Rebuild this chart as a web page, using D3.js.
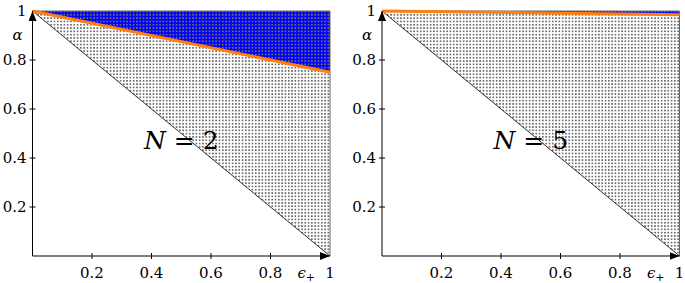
<!DOCTYPE html>
<html><head><meta charset="utf-8">
<script src="https://cdn.jsdelivr.net/npm/d3@7"></script>
<style>body{margin:0;background:#fff}svg{display:block}</style>
</head><body>
<script>
const panelN = [2, 5];
const alphaAtEpsOne = [0.75, 0.985];
const xTicks = [0.2, 0.4, 0.6, 0.8];
const yTicks = [0.2, 0.4, 0.6, 0.8, 1];

const FONT = "'DejaVu Serif', 'Liberation Serif', serif";
const W = 685, H = 283;
const svg = d3.select("body").append("svg").attr("width", W).attr("height", H)
  .attr("font-family", FONT);
const defs = svg.append("defs");
const pat = defs.append("pattern").attr("id", "dots").attr("patternUnits", "userSpaceOnUse")
  .attr("width", 3.3).attr("height", 3.3);
pat.append("rect").attr("x", 0.8).attr("y", 0.8).attr("width", 1.7).attr("height", 1.7).attr("fill", "#6e6e6e");
const mk = defs.append("marker").attr("id", "arr").attr("viewBox", "0 0 10 8").attr("refX", 10).attr("refY", 4)
  .attr("markerWidth", 10).attr("markerHeight", 8).attr("markerUnits", "userSpaceOnUse").attr("orient", "auto");
mk.append("path").attr("d", "M0,0 L10,4 L0,8 Z").attr("fill", "#000");

const panelLeft = [32.5, 382];
const panelWidth = 297.5;
const y = d3.scaleLinear().domain([0, 1]).range([256, 11]);

panelN.forEach((N, i) => {
  const x = d3.scaleLinear().domain([0, 1]).range([panelLeft[i], panelLeft[i] + panelWidth]);
  const g = svg.append("g");
  const line = d3.line().x(d => x(d[0])).y(d => y(d[1]));
  const a1 = alphaAtEpsOne[i];
  g.append("path").attr("d", line([[0, 1], [1, 1], [1, a1]]) + "Z").attr("fill", "#0000ff");
  g.append("path").attr("d", line([[0, 1], [1, 1], [1, 0]]) + "Z").attr("fill", "url(#dots)");
  g.append("path").attr("d", line([[0, 1], [1, 1], [1, 0]])).attr("fill", "none").attr("stroke", "#666").attr("stroke-width", 1);
  g.append("path").attr("d", line([[0, 1], [1, 0]])).attr("stroke", "#000").attr("stroke-width", 0.8).attr("fill", "none");
  g.append("path").attr("d", line([[0, 1], [1, a1]])).attr("stroke", "#ff7f0e").attr("stroke-width", 3).attr("fill", "none");
  g.append("path").attr("d", line([[0, 0], [0, 1]])).attr("stroke", "#000").attr("stroke-width", 1).attr("marker-end", "url(#arr)");
  g.append("path").attr("d", line([[0, 0], [1, 0]])).attr("stroke", "#000").attr("stroke-width", 1).attr("marker-end", "url(#arr)");
  xTicks.forEach(t => {
    g.append("line").attr("x1", x(t)).attr("x2", x(t)).attr("y1", y(0) - 3).attr("y2", y(0) + 3).attr("stroke", "#000");
    g.append("text").attr("x", x(t)).attr("y", 278).attr("text-anchor", "middle").attr("font-size", 15).text(t.toFixed(1));
  });
  g.append("text").attr("x", x(1)).attr("y", 278).attr("text-anchor", "middle").attr("font-size", 15).text("1");
  const eps = g.append("text").attr("x", x(0.92)).attr("y", 278).attr("text-anchor", "middle").attr("font-size", 15).attr("font-style", "italic");
  eps.append("tspan").text("ϵ");
  eps.append("tspan").attr("dy", 3).attr("font-size", 11).attr("font-style", "normal").text("+");
  yTicks.forEach(t => {
    if (t < 1) g.append("line").attr("x1", x(0) - 3).attr("x2", x(0) + 3).attr("y1", y(t)).attr("y2", y(t)).attr("stroke", "#000");
    g.append("text").attr("x", x(0) - 6).attr("y", y(t) + 5).attr("text-anchor", "end").attr("font-size", 15).text(t === 1 ? "1" : t.toFixed(1));
  });
  g.append("text").attr("x", x(0) - 15).attr("y", y(0.9) + 4).attr("text-anchor", "middle").attr("font-size", 15).attr("font-style", "italic").text("α");
  const lbl = g.append("text").attr("x", x(0.5)).attr("y", y(0.435)).attr("text-anchor", "middle").attr("font-size", 25);
  lbl.append("tspan").attr("font-style", "italic").text("N");
  lbl.append("tspan").text(" = " + N);
});
</script>
</body></html>
